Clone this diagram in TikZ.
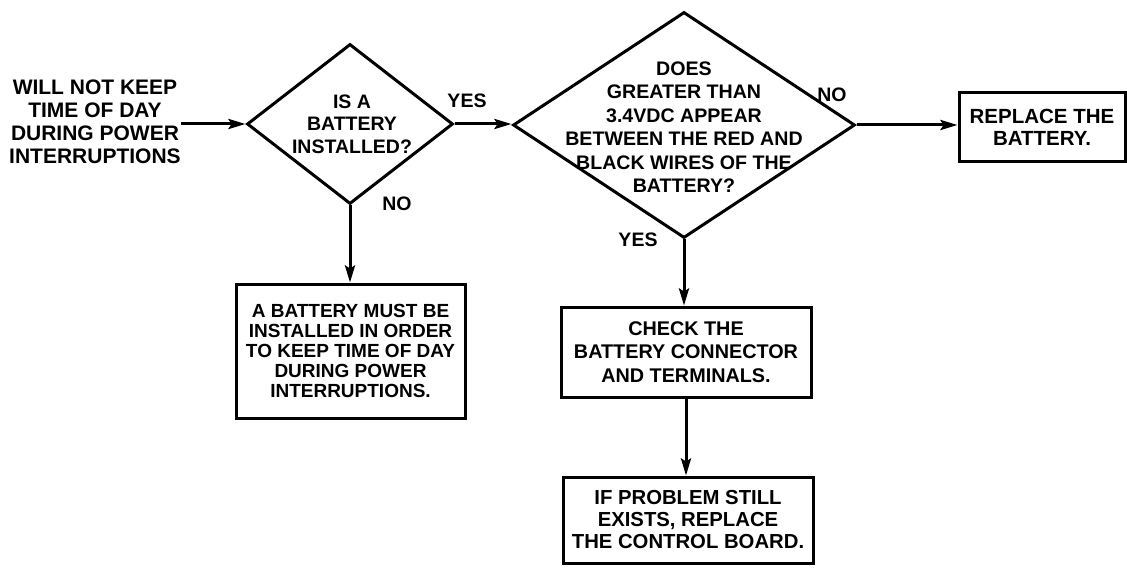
\documentclass[tikz,border=0pt]{standalone}
\usepackage{fontspec}
\setmainfont{Liberation Sans}
\usetikzlibrary{shapes.geometric,arrows.meta}
\begin{document}
\begin{tikzpicture}[x=1pt,y=-1pt,
  dia/.style={draw, diamond, inner sep=0pt, line width=3pt},
  box/.style={draw, rectangle, inner sep=0pt, line width=3pt, align=center},
  txt/.style={align=center, inner sep=0pt},
  lbl/.style={inner sep=0pt, font=\bfseries\fontsize{19.5}{22}\selectfont},
  arr/.style={-{Stealth[length=17pt,width=10pt,inset=3pt]}, line width=3pt}]
\useasboundingbox (0,0) rectangle (1127,572);
% start text
\node[txt, font=\bfseries\fontsize{21}{23}\selectfont] (start) at (95,122)
  {WILL NOT KEEP\\TIME OF DAY\\DURING POWER\\INTERRUPTIONS};
% decision 1
\node[dia, minimum width=206pt, minimum height=160pt] (d1) at (350,124) {};
\node[txt, font=\bfseries\fontsize{19.5}{22.5}\selectfont] (d1t) at (352,124)
  {IS A\\BATTERY\\INSTALLED?};
% decision 2
\node[dia, minimum width=342pt, minimum height=226pt] (d2) at (684,125) {};
\node[txt, font=\bfseries\fontsize{19.6}{23.5}\selectfont] (d2t) at (684,127)
  {DOES\\GREATER THAN\\3.4VDC APPEAR\\BETWEEN THE RED AND\\BLACK WIRES OF THE\\BATTERY?};
% boxes
\node[box, minimum width=166pt, minimum height=69pt,
  font=\bfseries\fontsize{20.5}{21.7}\selectfont] (rep) at (1042,127.5)
  {REPLACE THE\\BATTERY.};
\node[box, minimum width=229pt, minimum height=134pt,
  font=\bfseries\fontsize{19}{19.8}\selectfont] (bA) at (350.5,351)
  {A BATTERY MUST BE\\INSTALLED IN ORDER\\TO KEEP TIME OF DAY\\DURING POWER\\INTERRUPTIONS.};
\node[box, minimum width=250pt, minimum height=90pt,
  font=\bfseries\fontsize{19.8}{23.3}\selectfont] (chk) at (686,352)
  {CHECK THE\\BATTERY CONNECTOR\\AND TERMINALS.};
\node[box, minimum width=250pt, minimum height=86pt,
  font=\bfseries\fontsize{20.3}{22}\selectfont] (fin) at (688,520)
  {IF PROBLEM STILL\\EXISTS, REPLACE\\THE CONTROL BOARD.};
% labels
\node[lbl] (y1) at (467,101) {YES};
\node[lbl] (n1) at (397,204) {NO};
\node[lbl] (n2) at (832,95) {NO};
\node[lbl] (y2) at (638,240) {YES};
% connectors
\draw[arr] (start.east |- d1.west) -- (d1.west);
\draw[arr] (d1.east) -- (d1.east -| d2.west);
\draw[arr] (d2.east) -- (d2.east -| rep.west);
\draw[arr] (d1.south) -- (d1.south |- bA.north);
\draw[arr] (d2.south) -- (d2.south |- chk.north);
\draw[arr] (chk.south) -- (chk.south |- fin.north);
\end{tikzpicture}
\end{document}
